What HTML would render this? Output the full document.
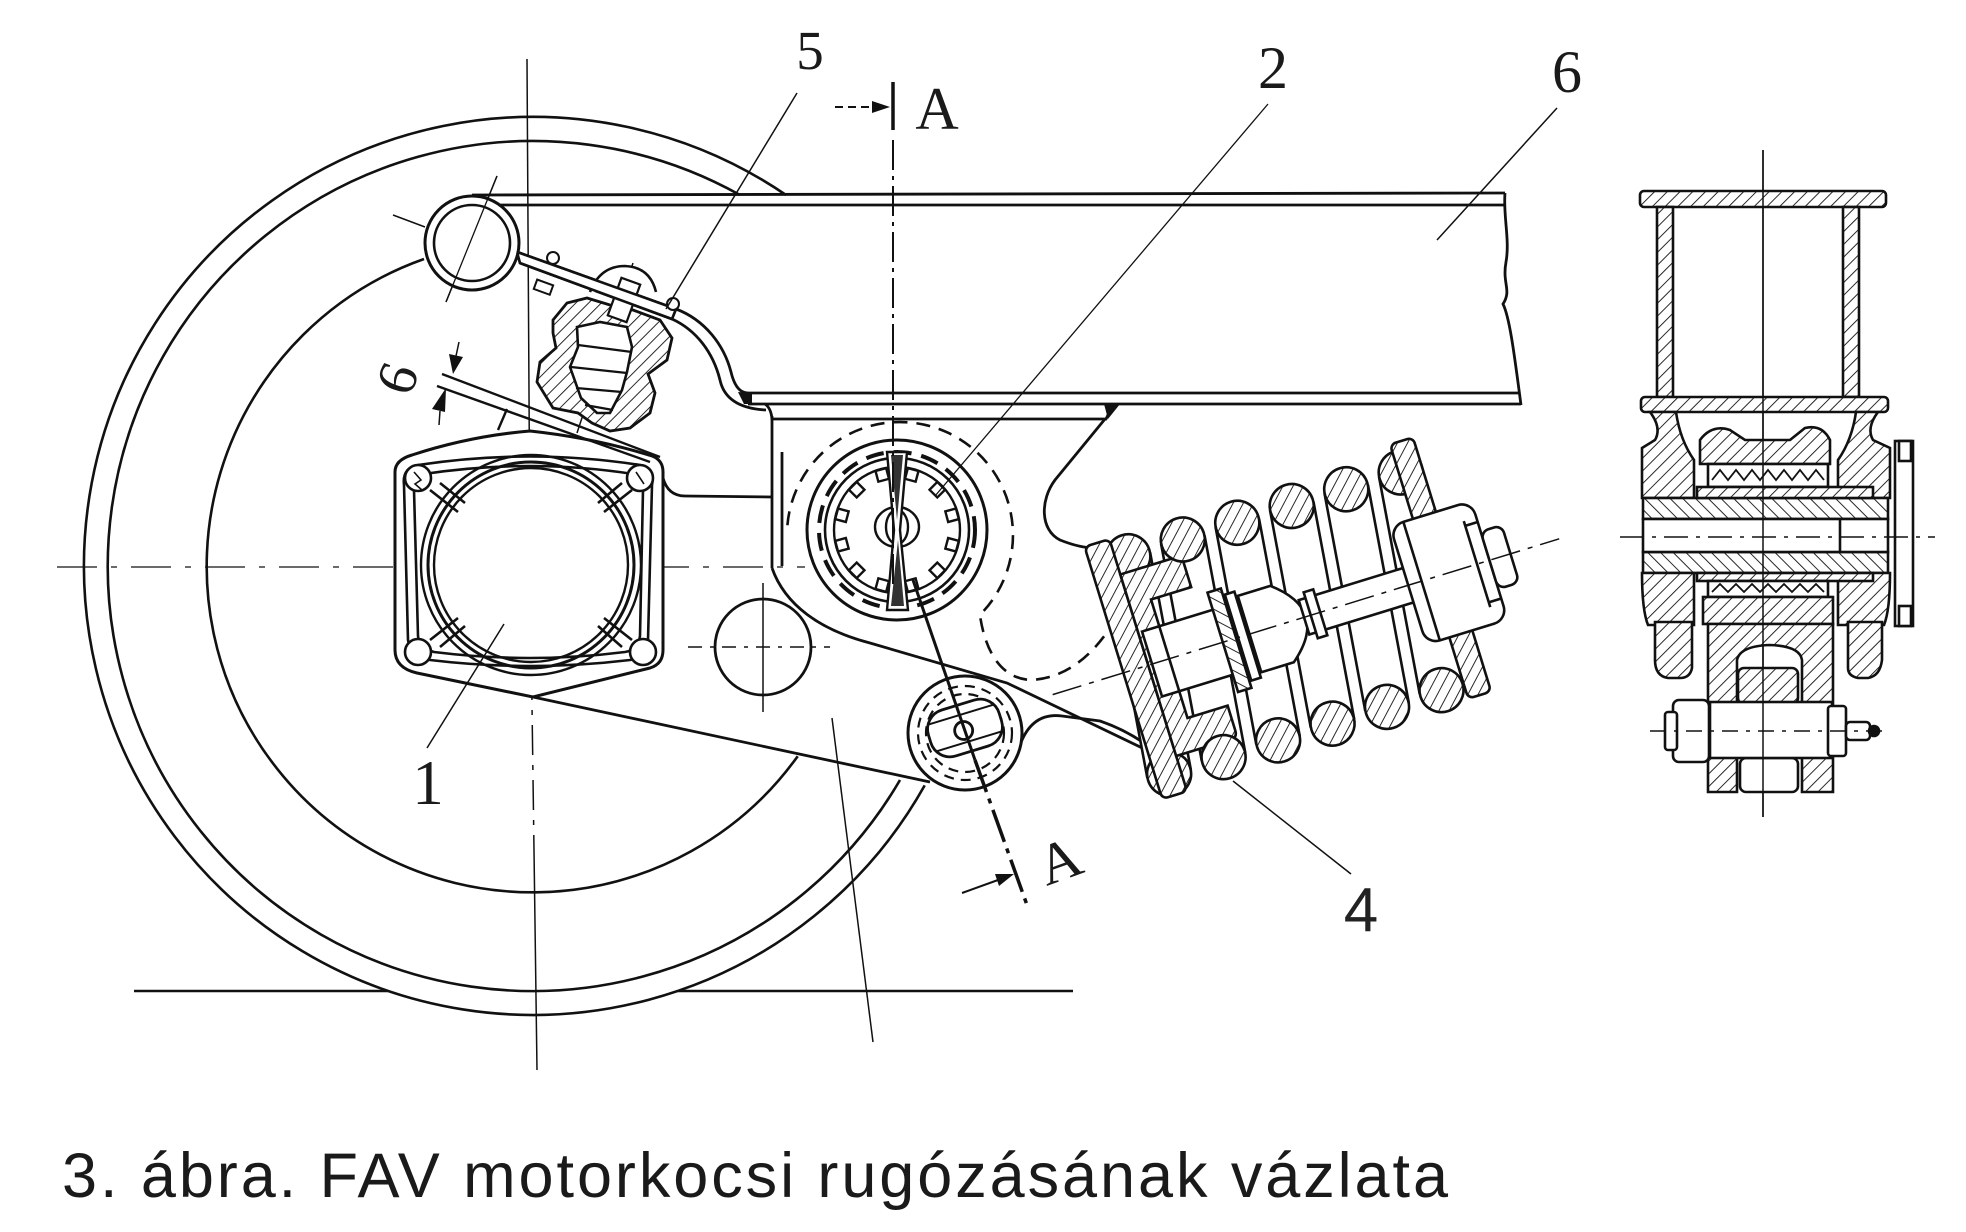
<!DOCTYPE html>
<html><head><meta charset="utf-8"><style>
html,body{margin:0;padding:0;background:#fff}
svg{display:block}
</style></head><body>
<svg width="1966" height="1232" viewBox="0 0 1966 1232" xmlns="http://www.w3.org/2000/svg">
<defs>
<pattern id="h" patternUnits="userSpaceOnUse" width="9" height="9" patternTransform="rotate(45)">
<rect width="9" height="9" fill="#fff"/><line x1="0" y1="0" x2="0" y2="9" stroke="#111" stroke-width="1.8"/>
</pattern>
<pattern id="h2" patternUnits="userSpaceOnUse" width="9" height="9" patternTransform="rotate(-45)">
<rect width="9" height="9" fill="#fff"/><line x1="0" y1="0" x2="0" y2="9" stroke="#111" stroke-width="1.8"/>
</pattern>
</defs>
<rect width="1966" height="1232" fill="#fff"/>

<!-- centerlines -->
<g stroke="#111" fill="none" stroke-width="1.5">
<path d="M527,59 L530,560"/>
<path d="M530,560 L534,850" stroke-dasharray="30 10 5 10"/>
<path d="M534,850 L537,1070"/>
<path d="M57,567 L805,567" stroke-dasharray="40 14 6 14" stroke-width="1.3"/>
<path d="M497,176 L446,302"/>
<path d="M393,215 L425,227"/>
<path d="M832,718 L873,1042"/>
<path d="M633,263 L577,433"/>
<path d="M763,583 L763,712"/>
<path d="M688,647 L830,647" stroke-dasharray="14 8 4 8"/>
</g>

<!-- wheel -->
<g fill="none" stroke="#111" stroke-width="2.6">
<path d="M924.7,785.4 A449,449 0 1 1 786,195"/>
<path d="M900,780 A425,425 0 1 1 740,195"/>
<path d="M797.7,756.2 A326,326 0 1 1 424,259"/>
<path d="M134,991 H388 M678,991 H1073" stroke-width="2.4"/>
</g>

<!-- beam -->
<g fill="none" stroke="#111" stroke-width="2.8">
<path d="M472,195 L1505,193"/>
<path d="M500,205 L1506,205"/>
<path d="M1505,193 C1503,215 1510,240 1506,262 S1512,290 1503,304 C1510,318 1515,360 1521,405"/>
<path d="M745,393 L1519,393"/>
<path d="M748,404 L1521,404"/>
<path d="M765,404 Q771,408 772,419 L1106,419 Q1110,409 1118,404"/>
<path d="M517,252 L676,309 C705,320 724,345 731,372 Q736,393 748,393"/>
<path d="M520,263 L672,319 C696,330 713,352 720,380 Q726,408 766,410"/>
</g>
<polygon points="517,252 676,309 672,319 520,263" fill="#fff" stroke="#111" stroke-width="2.6"/>
<path d="M738,392 L752,393 L752,404 L744,404 Z M1104,404 L1120,404 L1108,419 Z" fill="#111"/>

<!-- bracket / arm -->
<g fill="none" stroke="#111" stroke-width="2.8">
<path d="M772,416 V568"/>
<path d="M782,452 V566"/>
<path d="M663,478 Q668,496 685,496 L772,497"/>
<path d="M772,568 C785,605 820,630 870,643 L1007,683 L1157,755"/>
<path d="M1105,419 L1055,480 C1040,500 1040,530 1060,540 Q1080,548 1095,548"/>
<path d="M533,697 L930,782"/>
<path d="M1020,745 Q1032,712 1062,716 L1100,721 Q1135,733 1160,756"/>
</g>
<circle cx="763" cy="647" r="48" fill="none" stroke="#111" stroke-width="2.8"/>

<!-- gear pin -->
<path d="M787.4,525.2 A113,113 0 1 1 979.9,614.9 C985,650 1000,678 1030,680 Q1080,678 1115,620" fill="none" stroke="#111" stroke-width="2.6" stroke-dasharray="14 9"/>
<circle cx="897" cy="530" r="90" fill="#fff" stroke="#111" stroke-width="3"/>
<circle cx="897" cy="530" r="78" fill="none" stroke="#111" stroke-width="4" stroke-dasharray="18 10"/>
<circle cx="897" cy="530" r="72" fill="none" stroke="#111" stroke-width="2.6"/>
<circle cx="897" cy="530" r="63" fill="none" stroke="#111" stroke-width="2.4"/>
<g fill="#fff" stroke="#111" stroke-width="2.4">
<rect x="891.5" y="467.5" width="11" height="11" transform="rotate(15 897 530)"/>
<rect x="891.5" y="467.5" width="11" height="11" transform="rotate(45 897 530)"/>
<rect x="891.5" y="467.5" width="11" height="11" transform="rotate(75 897 530)"/>
<rect x="891.5" y="467.5" width="11" height="11" transform="rotate(105 897 530)"/>
<rect x="891.5" y="467.5" width="11" height="11" transform="rotate(135 897 530)"/>
<rect x="891.5" y="467.5" width="11" height="11" transform="rotate(165 897 530)"/>
<rect x="891.5" y="467.5" width="11" height="11" transform="rotate(195 897 530)"/>
<rect x="891.5" y="467.5" width="11" height="11" transform="rotate(225 897 530)"/>
<rect x="891.5" y="467.5" width="11" height="11" transform="rotate(255 897 530)"/>
<rect x="891.5" y="467.5" width="11" height="11" transform="rotate(285 897 530)"/>
<rect x="891.5" y="467.5" width="11" height="11" transform="rotate(315 897 530)"/>
<rect x="891.5" y="467.5" width="11" height="11" transform="rotate(345 897 530)"/>
<ellipse cx="897" cy="527" rx="22" ry="20"/>
<ellipse cx="897" cy="527" rx="11" ry="17"/>
<path d="M887,452 L907,452 L900,530 L908,610 L887,610 L894,530 Z"/>
</g>
<path d="M891,455 L903,455 L897,520 Z M891,606 L904,606 L898,540 Z" fill="#333"/>

<!-- lower eye -->
<circle cx="965" cy="733" r="57" fill="#fff" stroke="#111" stroke-width="3"/>
<circle cx="965" cy="733" r="47" fill="none" stroke="#111" stroke-width="2.2" stroke-dasharray="10 7"/>
<circle cx="965" cy="733" r="39" fill="none" stroke="#111" stroke-width="2.2" stroke-dasharray="10 7"/>
<g transform="translate(965,728) rotate(-17)" stroke="#111" stroke-width="2.8" fill="#fff">
<rect x="-37" y="-24" width="74" height="48" rx="20"/>
<path d="M-34,-14 H34 M-34,14 H34" fill="none" stroke-width="2"/>
<circle cx="-2" cy="2" r="9"/>
</g>

<!-- section line A-A -->
<g stroke="#111" fill="none">
<path d="M835,107 L872,107" stroke-width="2" stroke-dasharray="8 5"/>
<path d="M893,82 V130" stroke-width="3.5"/>
<path d="M893,140 V590" stroke-width="2" stroke-dasharray="30 6 4 6"/>
<path d="M913,580 L975,760" stroke-width="3"/>
<path d="M975,760 L1027,905" stroke-width="3.5" stroke-dasharray="34 7 5 7"/>
<path d="M962,893 L998,880" stroke-width="2"/>
</g>
<polygon points="872,101 890,107 872,113" fill="#111"/>
<polygon points="1014,874 999,886 995,874" fill="#111"/>

<!-- axle box -->
<path d="M412,455 Q470,436 530,431 Q595,438 652,456 Q663,460 663,472 L663,650 Q663,664 650,668 L533,697 L417,673 Q395,668 395,650 L395,472 Q395,460 412,455 Z" fill="#fff" stroke="#111" stroke-width="3"/>
<g fill="none" stroke="#111" stroke-width="2.6">
<path d="M418,465 Q530,448 640,465 Q655,470 652,485 L648,640 Q646,657 630,660 Q530,672 430,660 Q410,656 408,640 L404,485 Q402,468 418,465 Z"/>
<path d="M424,474 Q530,458 633,474 Q645,478 643,490 L640,636 Q638,650 625,652 Q530,664 434,652 Q419,648 418,636 L414,490 Q412,476 424,474 Z"/>
<circle cx="531" cy="565" r="110" stroke-width="2.4"/>
<circle cx="531" cy="565" r="103" stroke-width="3"/>
<circle cx="531" cy="565" r="97" stroke-width="2.4"/>
<path d="M430,490 L458,512 M440,483 L465,503 M632,490 L604,512 M622,483 L598,503 M430,640 L458,618 M440,647 L465,626 M632,640 L604,618 M622,647 L598,626"/>
</g>
<g fill="#fff" stroke="#111" stroke-width="2.6">
<circle cx="418" cy="478" r="13"/><circle cx="640" cy="478" r="13"/>
<circle cx="418" cy="652" r="13"/><circle cx="643" cy="652" r="13"/>
</g>
<path d="M414,472 L421,480 L415,484 L422,490 M636,472 L644,484" fill="none" stroke="#111" stroke-width="1.6"/>

<!-- bumper -->
<path d="M590,292 Q600,266 625,266 Q650,267 656,292" fill="#fff" stroke="#111" stroke-width="2.6"/>
<polygon points="553,320 567,303 587,298 610,305 633,310 660,320 672,338 667,360 648,374 655,393 650,413 630,428 610,431 592,423 578,413 553,408 537,382 540,362 556,348 553,333" fill="url(#h)" stroke="#111" stroke-width="2.8"/>
<polygon points="577,327 600,322 627,327 632,347 627,372 622,390 610,413 597,413 581,398 570,367 578,347" fill="#fff" stroke="#111" stroke-width="2.6"/>
<path d="M578,345 L632,352 M571,367 L627,373 M576,388 L622,392 M585,405 L613,410" stroke="#111" stroke-width="2.2" fill="none"/>
<rect x="614" y="280" width="20" height="40" fill="#fff" stroke="#111" stroke-width="2.2" transform="rotate(20 624 300)"/>
<polygon points="517,252 676,309 672,319 520,263" fill="#fff" stroke="#111" stroke-width="2.6"/>
<circle cx="553" cy="258" r="6" fill="#fff" stroke="#111" stroke-width="2"/>
<rect x="535" y="282" width="17" height="10" fill="#fff" stroke="#111" stroke-width="2" transform="rotate(20 543 287)"/>
<circle cx="673" cy="304" r="6" fill="#fff" stroke="#111" stroke-width="2"/>

<!-- pivot eye -->
<circle cx="472" cy="243" r="47" fill="#fff" stroke="#111" stroke-width="3"/>
<circle cx="472" cy="243" r="38" fill="#fff" stroke="#111" stroke-width="2.6"/>
<path d="M497,176 L446,302" stroke="#111" stroke-width="1.3"/>

<!-- gap 6 -->
<g stroke="#111" stroke-width="2.4" fill="none">
<path d="M442,374 L660,457"/><path d="M437,386 L650,462"/><path d="M498,430 L507,409"/>
<path d="M459,342 L456,356 M440,411 L439,425" stroke-width="1.5"/>
</g>
<polygon points="449,354 463,357 453,374" fill="#111"/>
<polygon points="432,409 445,412 446,388" fill="#111"/>

<!-- spring assembly -->
<g transform="translate(1110,677) rotate(-17.1)" stroke="#111" stroke-width="2.6">
<g fill="#fff" stroke="none">
<polygon points="75,-107.5 50,112.5 6,107.5 31,-112.5"/>
<polygon points="132,-107.5 107,112.5 63,107.5 88,-112.5"/>
<polygon points="189,-107.5 164,112.5 120,107.5 145,-112.5"/>
<polygon points="246,-107.5 221,112.5 177,107.5 202,-112.5"/>
<polygon points="303,-107.5 278,112.5 234,107.5 259,-112.5"/>
<polygon points="360,-107.5 335,112.5 291,107.5 316,-112.5"/>
</g>
<path fill="none" d="M75,-107.5 L50,112.5 M31,-112.5 L6,107.5 M132,-107.5 L107,112.5 M88,-112.5 L63,107.5 M189,-107.5 L164,112.5 M145,-112.5 L120,107.5 M246,-107.5 L221,112.5 M202,-112.5 L177,107.5 M303,-107.5 L278,112.5 M259,-112.5 L234,107.5 M360,-107.5 L335,112.5 M316,-112.5 L291,107.5"/>
<circle cx="53" cy="-110" r="22" fill="url(#h)"/>
<circle cx="338" cy="-110" r="22" fill="url(#h)"/>
<circle cx="28" cy="110" r="22" fill="url(#h)"/>
<rect x="14" y="-132" width="26" height="264" rx="6" fill="url(#h)"/>
<path d="M40,-95 L98,-95 Q104,-95 104,-88 L104,-62 L62,-62 L62,62 L104,62 L104,88 Q104,95 98,95 L40,95 Z" fill="url(#h)"/>
<rect x="44" y="-34" width="120" height="68" fill="#fff"/>
<path d="M62,-34 V34" fill="none"/>
<rect x="118" y="-52" width="14" height="104" fill="url(#h2)"/>
<rect x="134" y="-45" width="10" height="90" fill="#fff"/>
<path d="M146,-40 L180,-40 Q205,-20 205,0 Q205,20 180,40 L146,40 Z" fill="#fff"/>
<rect x="203" y="-18" width="140" height="36" fill="#fff"/>
<rect x="210" y="-24" width="10" height="48" fill="#fff"/>
<rect x="336" y="-140" width="24" height="266" rx="6" fill="url(#h)"/>
<rect x="312" y="-62" width="85" height="124" rx="14" fill="#fff"/>
<path d="M326,-62 V62 M384,-45 V45 M383,-40 H397 M383,40 H397" fill="none"/>
<rect x="397" y="-30" width="22" height="60" rx="8" fill="#fff"/>
<path d="M-60,0 L470,0" fill="none" stroke-width="1.5" stroke-dasharray="30 8 5 8"/>
<g fill="url(#h)">
<circle cx="110" cy="-110" r="22"/><circle cx="167" cy="-110" r="22"/><circle cx="224" cy="-110" r="22"/><circle cx="281" cy="-110" r="22"/>
<circle cx="85" cy="110" r="22"/><circle cx="142" cy="110" r="22"/><circle cx="199" cy="110" r="22"/><circle cx="256" cy="110" r="22"/><circle cx="313" cy="110" r="22"/>
</g>
</g>

<!-- leaders -->
<g stroke="#111" stroke-width="1.5" fill="none">
<path d="M797,93 L666,309"/>
<path d="M1268,104 L935,496" stroke-width="1.3"/>
<path d="M1557,108 L1437,240"/>
<path d="M427,748 L504,624"/>
<path d="M1351,874 L1233,781"/>
</g>

<!-- section view -->
<g stroke="#111" stroke-width="2.6">
<path d="M1763,150 V817" stroke-width="1.5" fill="none"/>
<rect x="1640" y="191" width="246" height="16" rx="4" fill="url(#h)"/>
<rect x="1657" y="207" width="16" height="190" fill="url(#h)"/>
<rect x="1843" y="207" width="16" height="190" fill="url(#h)"/>
<rect x="1641" y="397" width="247" height="15" rx="4" fill="url(#h)"/>
<path d="M1650,412 Q1662,428 1655,440 L1642,448 L1642,498 L1694,498 L1694,460 Q1680,440 1676,412 Z" fill="url(#h)"/>
<path d="M1878,412 Q1866,428 1873,440 L1890,448 L1890,498 L1838,498 L1838,460 Q1852,440 1856,412 Z" fill="url(#h)"/>
<rect x="1895" y="441" width="18" height="185" fill="#fff"/>
<rect x="1643" y="498" width="245" height="21" fill="url(#h2)"/>
<rect x="1643" y="552" width="245" height="21" fill="url(#h2)"/>
<rect x="1643" y="519" width="245" height="33" fill="#fff"/>
<path d="M1840,519 V552" fill="none"/>
<path d="M1642,573 L1694,573 L1694,625 L1648,625 Q1642,610 1642,573 Z" fill="url(#h)"/>
<path d="M1838,573 L1890,573 Q1890,610 1884,625 L1838,625 Z" fill="url(#h)"/>
<path d="M1655,622 L1692,622 L1692,668 Q1690,678 1680,678 L1668,678 Q1655,676 1655,660 Z" fill="url(#h)"/>
<path d="M1848,622 L1882,622 L1882,660 Q1880,676 1868,678 L1858,678 Q1848,676 1848,668 Z" fill="url(#h)"/>
<path d="M1700,464 L1700,440 Q1712,424 1730,430 L1745,440 L1790,440 L1805,428 Q1822,424 1830,440 L1830,464 Z" fill="url(#h)"/>
<rect x="1708" y="464" width="120" height="23" fill="#fff"/>
<polyline points="1712,480 1720,470 1728,480 1736,470 1744,480 1752,470 1760,480 1768,470 1776,480 1784,470 1792,480 1800,470 1808,480 1816,470 1824,480" fill="none" stroke-width="1.8"/>
<rect x="1697" y="487" width="176" height="11" fill="url(#h)"/>
<rect x="1697" y="573" width="176" height="8" fill="url(#h)"/>
<rect x="1708" y="581" width="120" height="16" fill="#fff"/>
<polyline points="1712,592 1720,584 1728,592 1736,584 1744,592 1752,584 1760,592 1768,584 1776,592 1784,584 1792,592 1800,584 1808,592 1816,584 1824,592" fill="none" stroke-width="1.8"/>
<rect x="1703" y="597" width="130" height="27" fill="url(#h)"/>
<path d="M1708,624 L1708,792 L1737,792 L1737,660 Q1740,646 1770,645 Q1800,646 1802,660 L1802,792 L1833,792 L1833,624 Z" fill="url(#h)"/>
<rect x="1738" y="668" width="60" height="36" rx="6" fill="url(#h)"/>
<rect x="1740" y="758" width="58" height="34" rx="6" fill="#fff"/>
<rect x="1710" y="702" width="122" height="56" fill="#fff"/>
<rect x="1673" y="700" width="36" height="62" rx="6" fill="#fff"/>
<rect x="1665" y="712" width="12" height="38" rx="3" fill="#fff"/>
<rect x="1828" y="706" width="18" height="50" rx="3" fill="#fff"/>
<rect x="1846" y="722" width="24" height="18" rx="4" fill="#fff"/>
<circle cx="1874" cy="731" r="5" fill="#111"/>
<rect x="1899" y="441" width="12" height="20" fill="#fff"/>
<rect x="1899" y="606" width="12" height="20" fill="#fff"/>
<path d="M1763,150 V817" stroke-width="1.5" fill="none"/>
<path d="M1620,537 H1935" stroke-width="1.5" stroke-dasharray="24 8 4 8" fill="none"/>
<path d="M1650,731 H1885" stroke-width="1.5" stroke-dasharray="16 8 4 8" fill="none"/>
</g>

<!-- labels -->
<g font-family="'Liberation Serif', serif" fill="#1a1a1a" text-anchor="middle">
<text x="810" y="69" font-size="55">5</text>
<text x="1273" y="88" font-size="60">2</text>
<text x="1567" y="92" font-size="60">6</text>
<text x="937" y="129" font-size="60">A</text>
<text x="428" y="804" font-size="63">1</text>
<text x="1060" y="880" font-size="58" transform="rotate(-20 1060 862)">A</text>
<text x="396" y="398" font-size="56" transform="rotate(-70 396 378)">6</text>
</g>
<text x="1361" y="931" font-family="'Liberation Sans', sans-serif" font-size="62" text-anchor="middle" fill="#222">4</text>
<text x="62" y="1197" font-family="'Liberation Sans', sans-serif" font-size="63" fill="#1a1a1a" textLength="1386" lengthAdjust="spacing">3. ábra. FAV motorkocsi rugózásának vázlata</text>
</svg>
</body></html>
